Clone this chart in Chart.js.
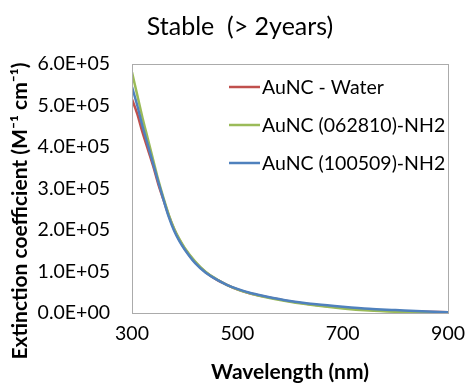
<!DOCTYPE html>
<html>
<head>
<meta charset="utf-8">
<script src="https://cdn.jsdelivr.net/npm/chart.js@4/dist/chart.umd.min.js"></script>
<style>
html,body{margin:0;padding:0;background:#fff;}
#wrap{width:474px;height:387px;position:relative;}
</style>
</head>
<body>
<div id="wrap"><canvas id="c" width="474" height="387"></canvas></div>
<script>
// Data
const wavelengths = [300,310,320,330,340,350,360,370,380,390,400,420,440,460,480,500,525,550,600,650,700,750,800,850,900];
const aunc_water   = [5.15e5,4.80e5,4.35e5,3.95e5,3.55e5,3.10e5,2.72e5,2.34e5,2.02e5,1.76e5,1.55e5,1.22e5,0.98e5,0.81e5,0.68e5,0.57e5,0.47e5,0.40e5,0.28e5,0.19e5,0.13e5,0.08e5,0.05e5,0.03e5,0.02e5];
const aunc_062810  = [5.80e5,5.25e5,4.70e5,4.20e5,3.70e5,3.20e5,2.76e5,2.36e5,2.03e5,1.78e5,1.57e5,1.24e5,0.99e5,0.82e5,0.68e5,0.57e5,0.47e5,0.39e5,0.27e5,0.18e5,0.11e5,0.06e5,0.03e5,0.01e5,0.00e5];
const aunc_100509  = [5.45e5,5.00e5,4.50e5,4.05e5,3.60e5,3.15e5,2.72e5,2.31e5,1.98e5,1.73e5,1.53e5,1.20e5,0.97e5,0.81e5,0.68e5,0.58e5,0.48e5,0.41e5,0.29e5,0.21e5,0.15e5,0.10e5,0.07e5,0.04e5,0.02e5];
const seriesNames = ["AuNC - Water","AuNC (062810)-NH2","AuNC (100509)-NH2"];
const seriesColors = ["#C0504D","#9BBB59","#4F81BD"];
const xTicks = [300,500,700,900];
const yTicks = [0,1e5,2e5,3e5,4e5,5e5,6e5];
const chartTitle = "Stable  (> 2years)";
const xTitle = "Wavelength (nm)";
const yTitle = "Extinction coefficient (M\u207B\u00B9 cm\u207B\u00B9)";

const FONT = "Lato, 'Open Sans', sans-serif";

function sci(v){
  if (v === 0) return "0.0E+00";
  const e = Math.floor(Math.log10(Math.abs(v)));
  const m = v / Math.pow(10, e);
  return m.toFixed(1) + "E+" + String(e).padStart(2,"0");
}

const series = [aunc_water, aunc_062810, aunc_100509];
const datasets = series.map((arr, i) => ({
  label: seriesNames[i],
  data: wavelengths.map((w, j) => ({x: w, y: arr[j]})),
  borderColor: seriesColors[i],
  backgroundColor: seriesColors[i],
  borderWidth: 2.5,
  pointRadius: 0,
  cubicInterpolationMode: 'monotone',
  fill: false,
  order: series.length - i
}));

const framePlugin = {
  id: 'frame',
  afterDraw(chart){
    const {ctx, chartArea:a} = chart;
    ctx.save();
    ctx.strokeStyle = '#ABABAB';
    ctx.lineWidth = 1;
    ctx.strokeRect(Math.round(a.left)+0.5, Math.round(a.top)+0.5, Math.round(a.right-a.left), Math.round(a.bottom-a.top));
    // chart title
    ctx.font = "25px " + FONT;
    ctx.textAlign = 'center';
    ctx.textBaseline = 'middle';
    ctx.fillStyle = '#000';
    ctx.fillText(chartTitle, 240, 27);
    // legend inside plot
    ctx.font = "19.5px " + FONT;
    ctx.textBaseline = 'middle';
    ctx.textAlign = 'left';
    chart.data.datasets.forEach((ds, i) => {
      const y = 87 + i*38;
      const x0 = 229;
      ctx.strokeStyle = ds.borderColor;
      ctx.lineWidth = 2.5;
      ctx.beginPath(); ctx.moveTo(x0, y); ctx.lineTo(x0+31, y); ctx.stroke();
      ctx.fillStyle = '#000';
      ctx.fillText(ds.label, x0+33, y+1);
    });
    // y axis title (rotated)
    ctx.translate(20, 211);
    ctx.rotate(-Math.PI/2);
    ctx.font = "bold 21px " + FONT;
    ctx.textAlign = 'center';
    ctx.textBaseline = 'middle';
    ctx.fillStyle = '#000';
    ctx.fillText(yTitle, 0, 0);
    ctx.restore();
  }
};

new Chart(document.getElementById('c'), {
  type: 'line',
  data: { datasets },
  plugins: [framePlugin],
  options: {
    responsive: false,
    animation: false,
    layout: { padding: { left: 0, right: 21, top: 64, bottom: 0 } },
    plugins: {
      legend: { display: false },
      tooltip: { enabled: false },
      title: { display: false }
    },
    scales: {
      x: {
        type: 'linear',
        min: 300, max: 900,
        afterBuildTicks(s){ s.ticks = xTicks.map(v => ({value: v})); },
        afterFit(s){ s.height = 74; },
        grid: { display: false, drawTicks: false },
        border: { display: false },
        ticks: { color: '#000', font: { family: FONT, size: 19.5 }, padding: 9, maxRotation: 0 },
        title: { display: true, text: xTitle, color: '#000', font: { family: FONT, size: 21, weight: 'bold' }, padding: { top: 8, bottom: 2 } }
      },
      y: {
        type: 'linear',
        min: 0, max: 6e5,
        afterBuildTicks(s){ s.ticks = yTicks.map(v => ({value: v})); },
        afterFit(s){ s.width = 132; },
        grid: { display: false, drawTicks: false },
        border: { display: false },
        ticks: { color: '#000', font: { family: FONT, size: 19.5 }, padding: 22, callback: v => sci(v) },
        title: { display: false }
      }
    }
  }
});
</script>
</body>
</html>
